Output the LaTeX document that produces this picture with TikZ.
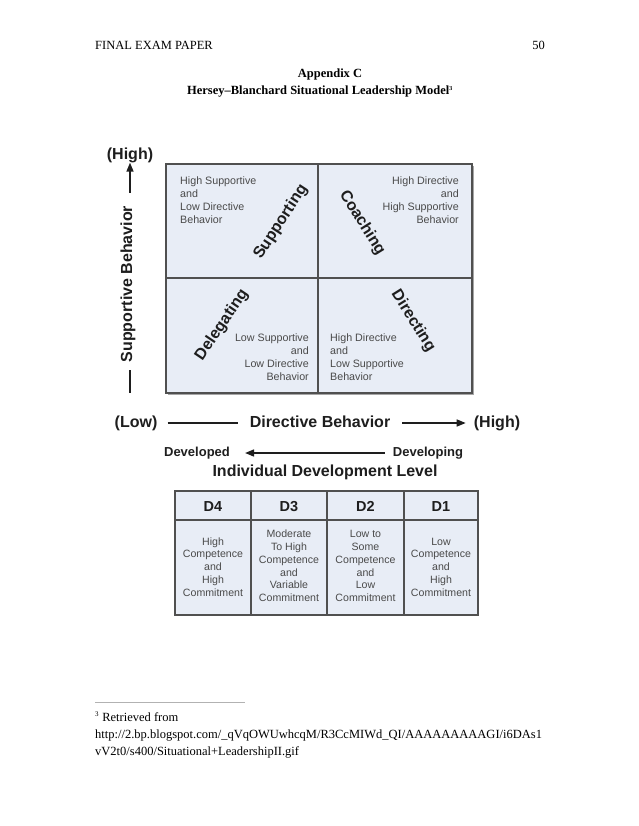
\documentclass[tikz,border=0pt]{standalone}
\usepackage{fontspec}
\setmainfont{Liberation Serif}
\newfontfamily\arial{Liberation Sans}
\usetikzlibrary{arrows.meta}
\definecolor{boxfill}{HTML}{E8EDF6}
\definecolor{qtext}{HTML}{4A4A4A}
\definecolor{edge}{HTML}{505050}
\definecolor{ink}{HTML}{1E1E1E}
\begin{document}
\begin{tikzpicture}[x=1pt,y=-1pt,
  qt/.style={font=\arial\fontsize{10.7}{13}\selectfont, text=qtext, inner sep=0pt},
  rotlab/.style={font=\arial\bfseries\fontsize{16}{18}\selectfont, text=ink, inner sep=0pt, text height=11.5pt, text depth=3.4pt},
  axlab/.style={font=\arial\bfseries\fontsize{16}{18}\selectfont, text=ink, inner sep=0pt, text height=11.5pt, text depth=3.4pt},
  devlab/.style={font=\arial\bfseries\fontsize{13}{15}\selectfont, text=ink, inner sep=0pt, text height=9.4pt, text depth=2.8pt},
  axis/.style={draw=ink, line width=1.5pt},
  tip/.style={-{Triangle[length=9pt,width=7pt]}},
  cell/.style={draw=edge, line width=1.2pt, fill=boxfill},
  dhead/.style={font=\arial\bfseries\fontsize{14.5}{17}\selectfont, text=ink, inner sep=0pt, text height=10.4pt, text depth=0pt},
  dbody/.style={font=\arial\fontsize{10.6}{12.8}\selectfont, text=qtext, inner sep=0pt, align=center}
]
\useasboundingbox (0,0) rectangle (638,826);
\fill[white] (0,0) rectangle (638,826);

% page header
\node[anchor=base west, font=\fontsize{12.5}{15}\selectfont, inner sep=0pt] (hdr) at (95,50) {FINAL EXAM PAPER};
\node[anchor=base east, font=\fontsize{12.5}{15}\selectfont, inner sep=0pt] (pg) at (545,50) {50};
\node[anchor=base, font=\bfseries\fontsize{12.5}{15}\selectfont, inner sep=0pt] (app) at (330,78) {Appendix C};
\node[anchor=base, font=\bfseries\fontsize{12.5}{15}\selectfont, inner sep=0pt] (ttl) at (320,95) {Hersey--Blanchard Situational Leadership Model\textsuperscript{\fontsize{6}{6}\selectfont 3}};

% quadrant grid with shadow
\fill[gray!70] (168,166) rectangle (474,395);
\draw[cell] (166,164) rectangle (472,393);
\draw[edge, line width=1.2pt] (318,164) -- (318,393);
\draw[edge, line width=1.2pt] (166,278) -- (472,278);

% quadrant texts
\node[qt, anchor=north west, align=left] (q1) at (180,177) {High Supportive\\and\\Low Directive\\Behavior};
\node[qt, anchor=north east, align=right] (q2) at (459,177) {High Directive\\and\\High Supportive\\Behavior};
\node[qt, anchor=north east, align=right] (q3) at (309,334) {Low Supportive\\and\\Low Directive\\Behavior};
\node[qt, anchor=north west, align=left] (q4) at (330,334) {High Directive\\and\\Low Supportive\\Behavior};

\node[rotlab, rotate=57] (sup) at (281,222) {Supporting};
\node[rotlab, rotate=-58] (coa) at (362,223) {Coaching};
\node[rotlab, rotate=56] (del) at (222,325) {Delegating};
\node[rotlab, rotate=-58] (dir) at (413,321) {Directing};

% vertical axis
\node[axlab] (yhigh) at (130,155) {(High)};
\node[axlab, rotate=90, text depth=3.4pt] (ylab) at (128,284) {Supportive Behavior};
\coordinate (ybot) at (130,393);
\coordinate (ytop) at (130,164);
\draw[axis, tip, shorten <=4pt] (130,197) -- (yhigh.south);
\draw[axis] (130,370) -- (ybot);

% horizontal axis
\node[axlab] (xlow) at (136,423) {(Low)};
\node[axlab] (xlab) at (320,423) {Directive Behavior};
\node[axlab] (xhigh) at (497,423) {(High)};
\draw[axis, shorten <=10pt, shorten >=12pt] (xlow.east) -- (xlab.west);
\draw[axis, tip, shorten <=12pt, shorten >=8pt] (xlab.east) -- (xhigh.west);

% development
\node[devlab] (dved) at (197,453) {Developed};
\node[devlab] (dving) at (428,453) {Developing};
\draw[axis, tip, shorten <=8pt, shorten >=15pt] (dving.west) -- (dved.east);
\node[axlab] (idl) at (325,472) {Individual Development Level};

% D table
\draw[cell] (175,491) rectangle (478,615);
\draw[edge, line width=1.2pt] (175,520) -- (478,520);
\foreach \xx in {251,327,404} \draw[edge, line width=1.2pt] (\xx,491) -- (\xx,615);
\node[dhead] (d4) at (213,506) {D4};
\node[dhead] (d3) at (289,506) {D3};
\node[dhead] (d2) at (365.5,506) {D2};
\node[dhead] (d1) at (441,506) {D1};
\node[dbody] (b4) at (213,567) {High\\Competence\\and\\High\\Commitment};
\node[dbody] (b3) at (289,566) {Moderate\\To High\\Competence\\and\\Variable\\Commitment};
\node[dbody] (b2) at (365.5,566) {Low to\\Some\\Competence\\and\\Low\\Commitment};
\node[dbody] (b1) at (441,567) {Low\\Competence\\and\\High\\Commitment};

% footnote
\draw[gray!60, line width=1pt] (95,702) -- (245,702);
\node[anchor=base west, inner sep=0pt, font=\fontsize{12.5}{17}\selectfont] (fn1) at (95,721) {\textsuperscript{\fontsize{7}{7}\selectfont 3} Retrieved from};
\node[anchor=base west, inner sep=0pt, font=\fontsize{12.5}{17}\selectfont] (fn2) at (95,738) {http://2.bp.blogspot.com/\_qVqOWUwhcqM/R3CcMIWd\_QI/AAAAAAAAAGI/i6DAs1};
\node[anchor=base west, inner sep=0pt, font=\fontsize{12.5}{17}\selectfont] (fn3) at (95,755) {vV2t0/s400/Situational+LeadershipII.gif};
\end{tikzpicture}
\end{document}
